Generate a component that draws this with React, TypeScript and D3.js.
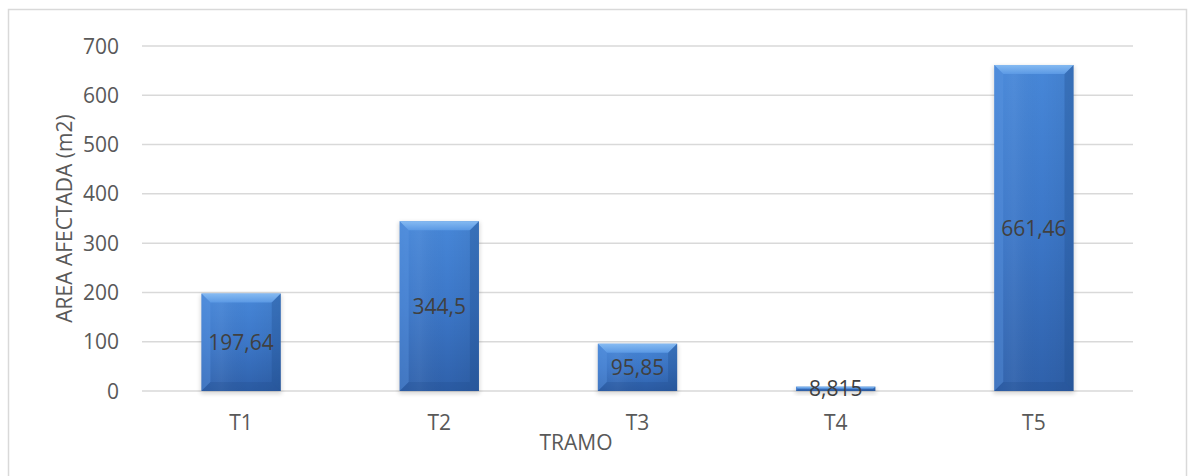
import React from "react";
import * as d3 from "d3";

// Affected area per section
const categories = ["T1", "T2", "T3", "T4", "T5"];
const values = [197.64, 344.5, 95.85, 8.815, 661.46];
const valueLabels = ["197,64", "344,5", "95,85", "8,815", "661,46"];
const yTicks = [0, 100, 200, 300, 400, 500, 600, 700];

const W = 1188;
const H = 476;
const plot = { left: 142, right: 1133, top: 46, bottom: 391 };
const FONT = "'Open Sans', 'DejaVu Sans', sans-serif";

export default function App() {
  const x = d3
    .scaleBand<string>()
    .domain(categories)
    .range([plot.left, plot.right])
    .paddingInner(0.6)
    .paddingOuter(0.3);
  const y = d3.scaleLinear().domain([0, 700]).range([plot.bottom, plot.top]);
  const bw = x.bandwidth();

  return (
    <div style={{ position: "fixed", left: 0, top: 0 }}>
      <svg width={W} height={H} style={{ display: "block", background: "#fff" }}>
        <defs>
          <linearGradient id="barFill" x1="0" y1="0" x2="0" y2="1">
            <stop offset="0" stopColor="#4787d8" />
            <stop offset="0.5" stopColor="#3c77c8" />
            <stop offset="1" stopColor="#2f61ab" />
          </linearGradient>
          <linearGradient id="barSheen" x1="0" y1="0" x2="1" y2="0">
            <stop offset="0" stopColor="#ffffff" stopOpacity="0" />
            <stop offset="0.25" stopColor="#ffffff" stopOpacity="0.05" />
            <stop offset="0.6" stopColor="#000000" stopOpacity="0" />
            <stop offset="1" stopColor="#000000" stopOpacity="0.06" />
          </linearGradient>
          <linearGradient id="topBevel" x1="0" y1="0" x2="0" y2="1">
            <stop offset="0" stopColor="#8cc0f5" />
            <stop offset="1" stopColor="#5d9be6" />
          </linearGradient>
          <filter id="shadow" x="-20%" y="-20%" width="140%" height="140%">
            <feGaussianBlur stdDeviation="2" />
          </filter>
        </defs>

        {/* outer chart frame */}
        <rect x={8.5} y={9.5} width={1178} height={H + 20} fill="none" stroke="#d9d9d9" strokeWidth={1.5} />

        {/* gridlines */}
        {yTicks.map((t) => (
          <line
            key={`g${t}`}
            x1={plot.left}
            x2={plot.right}
            y1={y(t)}
            y2={y(t)}
            stroke="#d9d9d9"
            strokeWidth={1.5}
          />
        ))}

        {/* y tick labels */}
        {yTicks.map((t) => (
          <text
            key={`t${t}`}
            x={119}
            y={y(t)}
            dy="0.36em"
            textAnchor="end"
            fontFamily={FONT}
            fontSize={21}
            fill="#595959"
          >
            {t}
          </text>
        ))}

        {/* bars with bevel */}
        {categories.map((c, i) => {
          const x0 = x(c)!;
          const y0 = y(values[i]);
          const h = plot.bottom - y0;
          const b = Math.min(9, h / 2, bw / 2);
          const x1 = x0 + bw;
          const y1 = plot.bottom;
          return (
            <g key={c}>
              <rect x={x0 - 1} y={y0 + 1} width={bw + 2} height={h + 2} fill="#000" opacity={0.15} filter="url(#shadow)" />
              <rect x={x0} y={y0} width={bw} height={h} fill="url(#barFill)" />
              <rect x={x0} y={y0} width={bw} height={h} fill="url(#barSheen)" />
              {/* top bevel */}
              <polygon
                points={`${x0},${y0} ${x1},${y0} ${x1 - b},${y0 + b} ${x0 + b},${y0 + b}`}
                fill="url(#topBevel)"
                opacity={0.9}
              />
              {/* left bevel */}
              <polygon
                points={`${x0},${y0} ${x0 + b},${y0 + b} ${x0 + b},${y1 - b} ${x0},${y1}`}
                fill="#5c97e0"
                opacity={0.4}
              />
              {/* right bevel */}
              <polygon
                points={`${x1},${y0} ${x1 - b},${y0 + b} ${x1 - b},${y1 - b} ${x1},${y1}`}
                fill="#1f4c8c"
                opacity={0.3}
              />
              {/* bottom bevel */}
              <polygon
                points={`${x0},${y1} ${x0 + b},${y1 - b} ${x1 - b},${y1 - b} ${x1},${y1}`}
                fill="#1d4683"
                opacity={0.22}
              />
            </g>
          );
        })}

        {/* value labels, centred in bars */}
        {categories.map((c, i) => (
          <text
            key={`v${c}`}
            x={x(c)! + bw / 2}
            y={(y(values[i]) + plot.bottom) / 2}
            dy="0.36em"
            textAnchor="middle"
            fontFamily={FONT}
            fontSize={21}
            fill="#404040"
          >
            {valueLabels[i]}
          </text>
        ))}

        {/* category labels */}
        {categories.map((c) => (
          <text
            key={`c${c}`}
            x={x(c)! + bw / 2}
            y={430}
            textAnchor="middle"
            fontFamily={FONT}
            fontSize={21}
            fill="#595959"
          >
            {c}
          </text>
        ))}

        {/* axis titles */}
        <text x={576} y={450} textAnchor="middle" fontFamily={FONT} fontSize={21} fill="#595959">
          TRAMO
        </text>
        <text
          transform={`translate(72, ${(plot.top + plot.bottom) / 2}) rotate(-90)`}
          textAnchor="middle"
          fontFamily={FONT}
          fontSize={21}
          fill="#595959"
        >
          AREA AFECTADA (m2)
        </text>
      </svg>
    </div>
  );
}
